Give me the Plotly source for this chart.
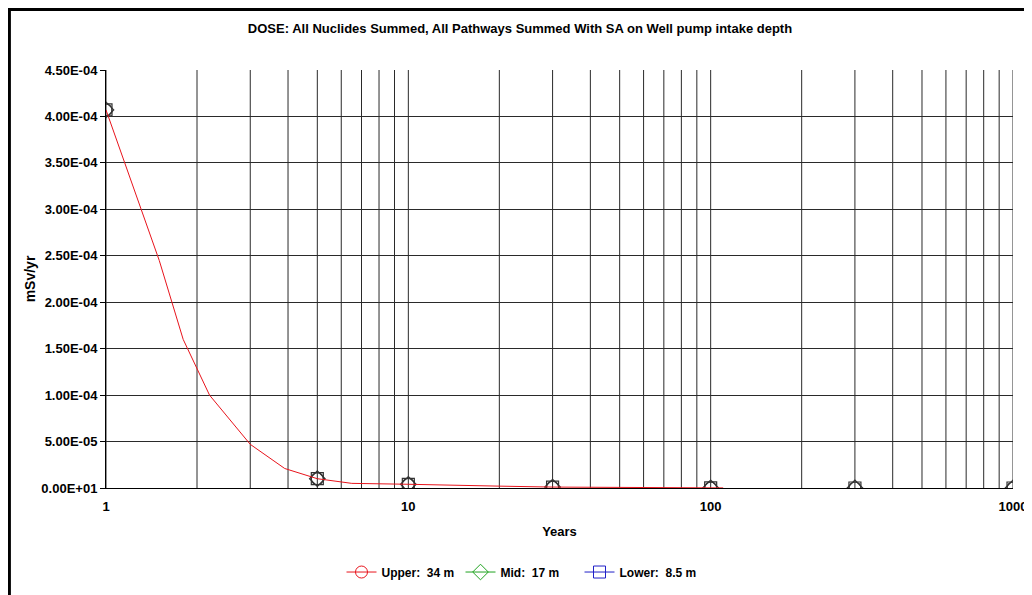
import plotly.graph_objects as go

# Curve (Upper series line)
curve_years = [1, 1.5, 1.8, 2.2, 3.0, 3.9, 5.0, 6.5, 10, 13, 20, 30, 50, 100, 110]
curve_dose = [4.07e-4, 2.45e-4, 1.6e-4, 1.0e-4, 4.7e-5, 2.1e-5, 1.0e-5, 5.0e-6,
              4.0e-6, 3.0e-6, 2.0e-6, 1.0e-6, 5.0e-7, 2.0e-7, 1.0e-7]

# Marker points (shared by the three depth series)
marker_years = [1, 5, 10, 30, 100, 300, 1000]
marker_dose = [4.07e-4, 1.0e-5, 4.0e-6, 1.0e-6, 2.0e-7, 0.0, 0.0]

series_names = ["Upper:  34 m", "Mid:  17 m", "Lower:  8.5 m"]
series_colors = ["#e8141c", "#1fa31f", "#1f1fc8"]
series_symbols = ["circle-open", "diamond-open", "square-open"]

y_tickvals = [0, 5e-5, 1e-4, 1.5e-4, 2e-4, 2.5e-4, 3e-4, 3.5e-4, 4e-4, 4.5e-4]
y_ticktext = ["0.00E+01", "5.00E-05", "1.00E-04", "1.50E-04", "2.00E-04",
              "2.50E-04", "3.00E-04", "3.50E-04", "4.00E-04", "4.50E-04"]
x_tickvals = [1, 10, 100, 1000]
x_ticktext = ["1", "10", "100", "1000"]
x_grid = [m * 10 ** d for d in range(3) for m in range(1, 10)] + [1000]

title_text = "DOSE: All Nuclides Summed, All Pathways Summed With SA on Well pump intake depth"

FONT = "Liberation Sans, Arial, sans-serif"

fig = go.Figure()

for name, col, sym in list(zip(series_names, series_colors, series_symbols))[::-1]:
    fig.add_trace(go.Scatter(
        x=marker_years, y=marker_dose, mode="markers", name=name,
        marker=dict(symbol=sym, size=12, color="#333333", line=dict(width=1.2, color="#333333")),
        showlegend=False, hoverinfo="skip", cliponaxis=True))

fig.add_trace(go.Scatter(
    x=curve_years, y=curve_dose, mode="lines",
    line=dict(color="#e8141c", width=1), showlegend=False, hoverinfo="skip"))

for name, col, sym in zip(series_names, series_colors, series_symbols):
    fig.add_trace(go.Scatter(
        x=[None], y=[None], mode="lines+markers", name=name,
        line=dict(color=col, width=1),
        marker=dict(symbol=sym, size=12, color=col, line=dict(width=1, color=col))))

shapes = []
for gx in x_grid:
    shapes.append(dict(type="line", xref="x", yref="paper", x0=gx, x1=gx, y0=0, y1=1,
                       line=dict(color="#2a2a2a", width=1), layer="below"))

# outer frame (top and left visible)
shapes.append(dict(type="rect", xref="paper", yref="paper",
                   x0=-0.1065, x1=1.3, y0=-0.5, y1=1.145,
                   line=dict(color="black", width=3)))

fig.update_layout(
    width=1024, height=587,
    margin=dict(l=98, r=19, t=62, b=107, autoexpand=False),
    paper_bgcolor="white", plot_bgcolor="white",
    font=dict(family=FONT, size=12, color="black", weight="bold"),
    title=dict(text=title_text, x=0.5, xanchor="center", y=0.966, yanchor="middle",
               font=dict(size=13, family=FONT, weight="bold")),
    xaxis=dict(type="log", range=[0, 3], tickvals=x_tickvals, ticktext=x_ticktext,
               showgrid=False, zeroline=False, showline=True, linecolor="black", linewidth=1,
               tickfont=dict(size=13, family=FONT, weight="bold"), automargin=False,
               ticks="", ticklabelstandoff=6,
               title=dict(text="Years", font=dict(size=13, weight="bold"), standoff=14)),
    yaxis=dict(range=[0, 4.5e-4], tickvals=y_tickvals, ticktext=y_ticktext,
               showgrid=True, gridcolor="#2a2a2a", gridwidth=1, zeroline=False,
               showline=True, linecolor="black", linewidth=1, automargin=False,
               ticks="outside", ticklen=5, tickcolor="black",
               tickfont=dict(size=13, family=FONT, weight="bold"),
               title=dict(text="mSv/yr", font=dict(size=14, weight="bold"), standoff=2)),
    legend=dict(orientation="h", xref="container", x=0.5, xanchor="center",
                y=-0.201, yanchor="middle",
                font=dict(size=12, weight="bold"), tracegroupgap=0,
                entrywidth=74, entrywidthmode="pixels"),
    shapes=shapes,
)

fig.write_html("out.html")
